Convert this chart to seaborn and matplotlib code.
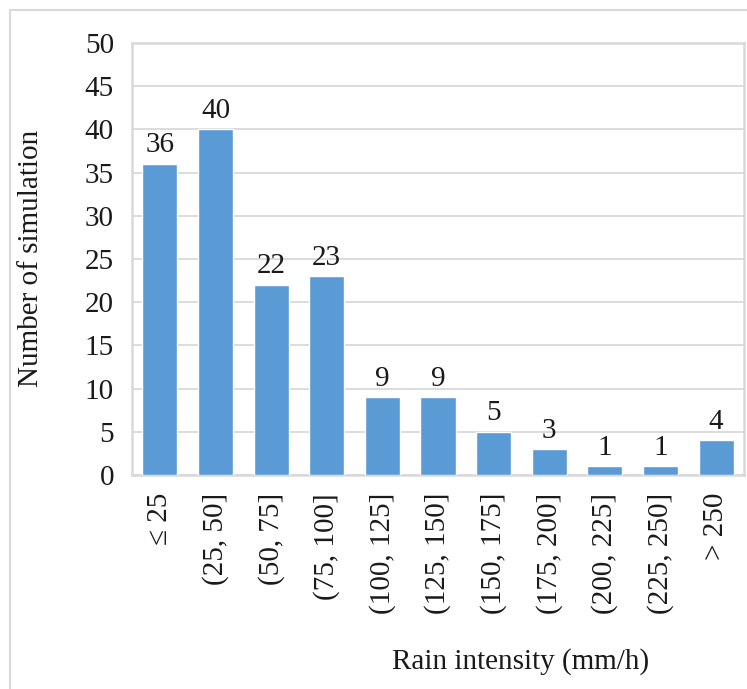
import matplotlib
matplotlib.use("Agg")
import matplotlib.pyplot as plt
import seaborn as sns
import pandas as pd
from matplotlib.lines import Line2D

categories = ["≤ 25", "(25, 50]", "(50, 75]", "(75, 100]", "(100, 125]", "(125, 150]",
              "(150, 175]", "(175, 200]", "(200, 225]", "(225, 250]", "> 250"]
counts = [36, 40, 22, 23, 9, 9, 5, 3, 1, 1, 4]
y_ticks = list(range(0, 55, 5))

sns.set_theme(style="white")
plt.rcParams["font.family"] = ["Liberation Serif", "DejaVu Serif"]

FS = 21
INK = "#1a1a1a"
GRID = "#d9d9d9"

df = pd.DataFrame({"interval": categories, "count": counts})

W, H = 747, 689
fig = plt.figure(figsize=(W / 100, H / 100), dpi=100)
ax = fig.add_axes([132 / W, 1 - 475 / H, (744 - 132) / W, (475 - 43) / H])

sns.barplot(data=df, x="interval", y="count", color="#5B9BD5", saturation=1,
            width=0.63, ax=ax, zorder=3)

ax.set_ylim(0, 50)
ax.set_yticks(y_ticks)
ax.set_xlim(-0.5, len(categories) - 0.5)
ax.yaxis.grid(True, color=GRID, linewidth=1.3, zorder=0)
for s in ax.spines.values():
    s.set_visible(True)
    s.set_color(GRID)
    s.set_linewidth(1.8)

ax.tick_params(axis="y", labelsize=FS, length=0, pad=13, colors=INK)
ax.tick_params(axis="x", labelsize=FS, length=0, pad=13, labelrotation=90, colors=INK)
ax.set_xlabel("")
ax.set_ylabel("Number of simulation", fontsize=FS, color=INK)
ax.yaxis.set_label_coords((44 - 132) / (744 - 132), (475 - 258) / (475 - 43))

for cont in ax.containers:
    ax.bar_label(cont, labels=[str(v) for v in counts], padding=4, fontsize=FS, color=INK)

fig.text(521 / W, 1 - 662 / H, "Rain intensity (mm/h)", ha="center", va="center",
         fontsize=FS, color=INK)

# open frame along the top and left of the figure
fig.add_artist(Line2D([10 / W, 1], [1 - 10 / H, 1 - 10 / H], transform=fig.transFigure,
                      color=GRID, linewidth=1.5))
fig.add_artist(Line2D([10 / W, 10 / W], [0, 1 - 10 / H], transform=fig.transFigure,
                      color=GRID, linewidth=1.5))

fig.savefig("out.png", dpi=100, facecolor="white")
